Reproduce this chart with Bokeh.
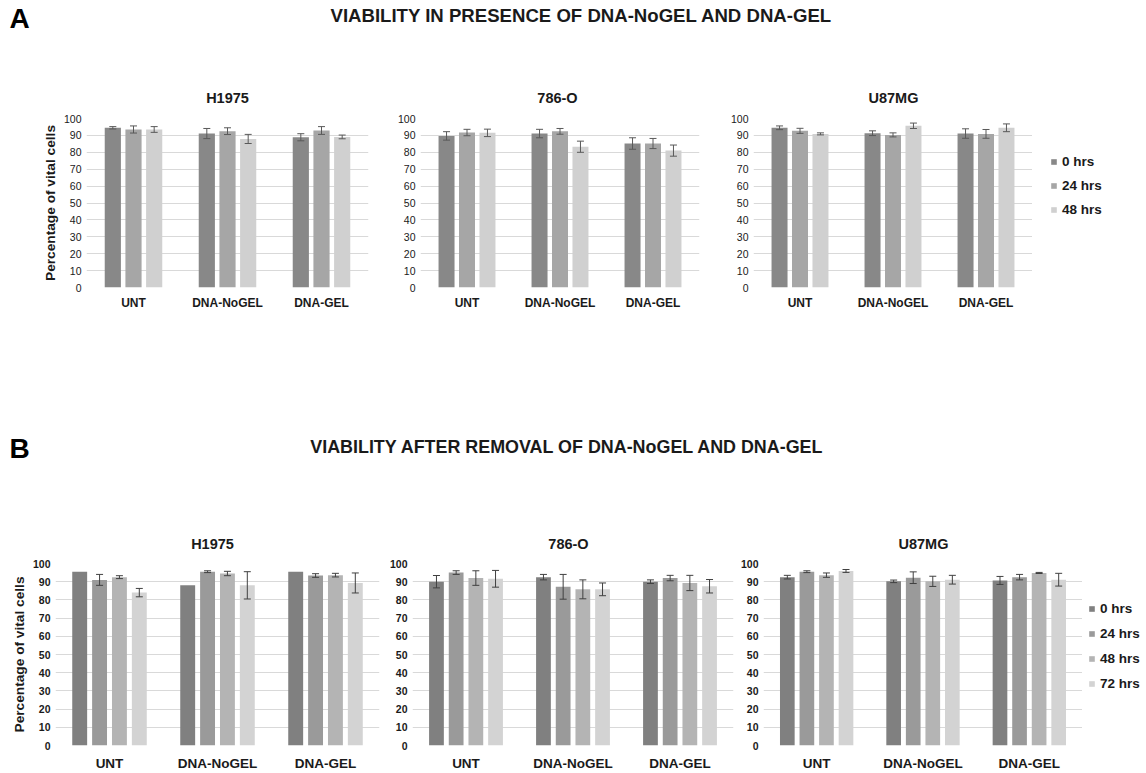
from bokeh.plotting import figure
from bokeh.models import (ColumnDataSource, FactorRange, Range1d, Whisker, TeeHead,
                          Legend, LegendItem, Label, SingleIntervalTicker)
from bokeh.transform import dodge
from bokeh.layouts import column, row
from bokeh.embed import file_html
from bokeh.resources import INLINE

# ---------------- data ----------------
treatments = ["UNT", "DNA-NoGEL", "DNA-GEL"]
cell_lines = ["H1975", "786-O", "U87MG"]

series_A = ["0 hrs", "24 hrs", "48 hrs"]
series_B = ["0 hrs", "24 hrs", "48 hrs", "72 hrs"]

# rows = time points, columns = treatments
A_H1975_mean = [[94.5, 91.1, 88.9], [93.5, 92.5, 92.9], [93.5, 87.9, 89.1]]
A_H1975_err = [[0.7, 3.0, 2.1], [2.1, 2.0, 2.3], [1.7, 2.7, 1.1]]

A_786O_mean = [[89.7, 91.1, 85.2], [91.7, 92.4, 85.2], [91.5, 83.3, 81.0]]
A_786O_err = [[2.5, 2.5, 3.4], [1.9, 1.7, 3.0], [2.2, 3.3, 3.3]]

A_U87MG_mean = [[94.5, 91.3, 91.1], [92.7, 90.3, 90.9], [90.9, 95.7, 94.5]]
A_U87MG_err = [[1.1, 1.4, 2.8], [1.5, 1.2, 2.6], [0.6, 1.6, 2.3]]

B_H1975_mean = [[95.5, 88.0, 95.5], [91.0, 95.5, 93.4], [92.5, 94.5, 93.6], [84.0, 88.0, 89.3]]
B_H1975_err = [[0.0, 0.0, 0.0], [3.0, 0.5, 1.0], [0.8, 1.2, 1.0], [2.3, 7.5, 5.5]]

B_786O_mean = [[90.0, 92.5, 90.0], [95.0, 87.2, 92.0], [92.0, 85.8, 89.3], [91.6, 85.8, 87.5]]
B_786O_err = [[3.4, 1.5, 1.0], [1.0, 6.8, 1.5], [4.0, 5.2, 4.2], [4.6, 3.5, 3.7]]

B_U87MG_mean = [[92.5, 90.2, 90.7], [95.5, 92.2, 92.5], [93.6, 90.2, 94.8], [95.9, 91.1, 91.1]]
B_U87MG_err = [[1.0, 0.7, 2.2], [0.5, 3.2, 1.5], [1.2, 2.8, 0.3], [0.8, 2.4, 3.5]]

colors_A = ["#888888", "#a6a6a6", "#d0d0d0"]
colors_B = ["#808080", "#9a9a9a", "#b4b4b4", "#d3d3d3"]

title_A = "VIABILITY IN PRESENCE OF DNA-NoGEL AND DNA-GEL"
title_B = "VIABILITY AFTER REMOVAL OF DNA-NoGEL AND DNA-GEL"
ylab = "Percentage of vital cells"

FONT = "Liberation Sans"
TEXT = "#1a1a1a"


def chart(means, errs, series, colors, width, height, mbl, mbr, mbt, mbb,
          pitch, bar_w, tick_style, xlab_size, xlab_standoff, err_color, ylabel=None):
    p = figure(x_range=FactorRange(factors=treatments), y_range=Range1d(0, 100),
               width=width, height=height, toolbar_location=None, output_backend="svg",
               min_border_left=mbl, min_border_right=mbr, min_border_top=mbt,
               min_border_bottom=mbb)
    p.outline_line_color = None
    p.xgrid.grid_line_color = None
    p.ygrid.grid_line_color = "#d9d9d9"
    p.ygrid.grid_line_width = 1

    p.yaxis.ticker = SingleIntervalTicker(interval=10, num_minor_ticks=0)
    for ax in (p.xaxis, p.yaxis):
        ax.axis_line_color = None
        ax.major_tick_line_color = None
        ax.minor_tick_line_color = None
        ax.major_tick_out = 0
        ax.major_tick_in = 0
        ax.major_label_text_font = FONT
        ax.major_label_text_color = TEXT
    p.xaxis.major_label_text_font_size = xlab_size
    p.xaxis.major_label_text_font_style = "bold"
    p.xaxis.major_label_standoff = xlab_standoff
    p.yaxis.major_label_text_font_size = "10.5px"
    p.yaxis.major_label_text_font_style = tick_style
    p.yaxis.major_label_standoff = 5
    if ylabel:
        p.yaxis.axis_label = ylabel
        p.yaxis.axis_label_text_font = FONT
        p.yaxis.axis_label_text_font_size = "13.7px"
        p.yaxis.axis_label_text_font_style = "bold"
        p.yaxis.axis_label_text_color = TEXT
        p.yaxis.axis_label_standoff = 3

    n = len(series)
    for i, s in enumerate(series):
        off = (i - (n - 1) / 2) * pitch
        src = ColumnDataSource(dict(treat=treatments, top=means[i]))
        p.vbar(x=dodge("treat", off, range=p.x_range), top="top", width=bar_w,
               source=src, fill_color=colors[i], line_color=None)
        keep = [j for j in range(len(treatments)) if errs[i][j] > 0]
        wsrc = ColumnDataSource(dict(
            treat=[treatments[j] for j in keep],
            upper=[means[i][j] + errs[i][j] for j in keep],
            lower=[means[i][j] - errs[i][j] for j in keep]))
        w = Whisker(base=dodge("treat", off, range=p.x_range), upper="upper", lower="lower",
                    source=wsrc, line_color=err_color, line_width=1, level="annotation",
                    upper_head=TeeHead(size=7, line_color=err_color, line_width=1),
                    lower_head=TeeHead(size=7, line_color=err_color, line_width=1))
        p.add_layout(w)
    return p


def legend_fig(series, colors, width, height, vx, vy, spacing):
    # legend-only panel; its swatch renderers have zero-size geometry (draw nothing)
    p = figure(width=width, height=height, x_range=Range1d(0, 1), y_range=Range1d(0, 1),
               toolbar_location=None, output_backend="svg", min_border=0,
               x_axis_type=None, y_axis_type=None)
    p.outline_line_color = None
    items = []
    for s, c in zip(series, colors):
        r = p.vbar(x=[0.5], bottom=[0], top=[0], width=0, fill_color=c, line_color=None)
        items.append(LegendItem(label=s, renderers=[r]))
    leg = Legend(items=items, location=(vx, vy), orientation="vertical",
                 glyph_width=7, glyph_height=7, label_height=16, spacing=spacing,
                 padding=0, margin=0, label_standoff=5,
                 border_line_color=None, background_fill_alpha=0,
                 label_text_font=FONT, label_text_font_size="13.5px",
                 label_text_font_style="bold", label_text_color=TEXT)
    p.add_layout(leg)
    return p


def header(letter, title, height, y_letter, x_title, y_title, title_size, sub_x, sub_y):
    p = figure(width=1146, height=height, x_range=Range1d(0, 1146), y_range=Range1d(0, height),
               toolbar_location=None, output_backend="svg", min_border=0,
               x_axis_type=None, y_axis_type=None)
    p.outline_line_color = None
    p.add_layout(Label(x=9, y=y_letter, text=letter, text_baseline="middle",
                       text_font=FONT, text_font_size="28px", text_font_style="bold",
                       text_color="black"))
    p.add_layout(Label(x=x_title, y=y_title, text=title, text_align="center",
                       text_baseline="middle", text_font=FONT, text_font_size=title_size,
                       text_font_style="bold", text_color=TEXT))
    for name, sx in zip(cell_lines, sub_x):
        p.add_layout(Label(x=sx, y=sub_y, text=name, text_align="center",
                           text_baseline="middle", text_font=FONT, text_font_size="14.5px",
                           text_font_style="bold", text_color=TEXT))
    return p


# ---------------- panel A ----------------
hA = header("A", title_A, 108, 90, 581, 93, "18.6px", [227, 557, 893], 11)
a1 = chart(A_H1975_mean, A_H1975_err, series_A, colors_A, 378, 212, 86, 10, 10, 33,
           0.22, 0.172, "normal", "12px", 8, "#595959", ylabel=ylab)
a2 = chart(A_786O_mean, A_786O_err, series_A, colors_A, 332, 212, 42, 11, 10, 33,
           0.22, 0.172, "normal", "12px", 8, "#595959")
a3 = chart(A_U87MG_mean, A_U87MG_err, series_A, colors_A, 322, 212, 43, 0, 10, 33,
           0.22, 0.172, "normal", "12px", 8, "#595959")
lA = legend_fig(series_A, colors_A, 114, 212, 18, 70, 8)

# ---------------- panel B ----------------
hB = header("B", title_B, 233, 105, 567, 107, "17.9px", [212, 568, 923], 9.5)
b1 = chart(B_H1975_mean, B_H1975_err, series_B, colors_B, 383, 220, 55, 4, 10, 22,
           0.184, 0.138, "bold", "13.5px", 10, "#404040", ylabel=ylab)
b2 = chart(B_786O_mean, B_786O_err, series_B, colors_B, 354, 220, 29, 4, 10, 22,
           0.184, 0.138, "bold", "13.5px", 10, "#404040")
b3 = chart(B_U87MG_mean, B_U87MG_err, series_B, colors_B, 345, 220, 25, 0, 10, 22,
           0.184, 0.138, "bold", "13.5px", 10, "#404040")
lB = legend_fig(series_B, colors_B, 64, 220, 6, 54, 9)

layout = column(hA, row(a1, a2, a3, lA), hB, row(b1, b2, b3, lB))
open("out.html", "w").write(file_html(layout, INLINE))
